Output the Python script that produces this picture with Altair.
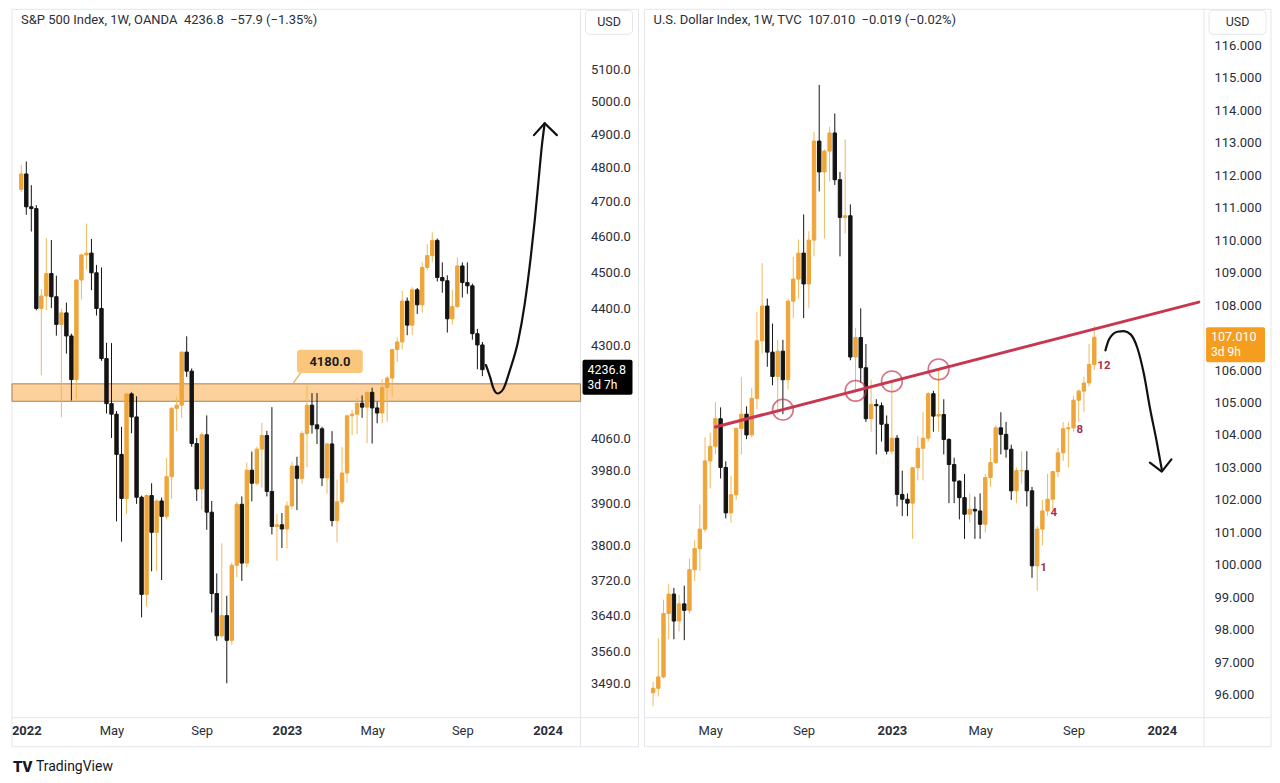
import altair as alt
import pandas as pd

FONT = "Roboto"
UP = "#eea53a"
UP_WICK = "#f1b85a"
DOWN = "#141414"
LINE = "#e3e5ea"
TXT = "#2a2e39"
RED = "#c8364f"
TD = "#a8304f"

# ---------------- S&P 500 Index, 1W, OANDA (weekly, from 2021-12-27) ----------------
spx_start = "2021-12-27"
spx_open0 = 4736
spx_close = [4781, 4685, 4680, 4400, 4434, 4496, 4432, 4357, 4388, 4326,
             4211, 4478, 4548, 4553, 4498, 4400, 4266, 4149, 4122, 4021,
             3913, 4174, 4115, 3916, 3688, 3920, 3832, 3907, 3870, 3966,
             4137, 4145, 4283, 4233, 4048, 3936, 4070, 3880, 3690, 3595,
             3640, 3585, 3755, 3899, 3760, 3982, 3950, 4034, 4068, 3930,
             3846, 3850, 3840, 3895, 3992, 3962, 4073, 4145, 4095, 4085,
             3963, 4047, 3860, 3905, 3975, 4118, 4122, 4150, 4140, 4178,
             4138, 4125, 4190, 4215, 4290, 4310, 4420, 4355, 4451, 4410,
             4513, 4546, 4589, 4485, 4476, 4372, 4405, 4517, 4471, 4462,
             4332, 4302, 4236.8]
spx_high = [4808, 4818, 4748, 4690, 4453, 4595, 4590, 4490, 4400, 4416,
            4332, 4480, 4550, 4637, 4593, 4520, 4513, 4308, 4307, 4130,
            4090, 4175, 4178, 4168, 3920, 3923, 3950, 3911, 3915, 4012,
            4140, 4167, 4285, 4325, 4240, 4062, 4076, 4119, 3907, 3736,
            3806, 3685, 3762, 3905, 3918, 4001, 4028, 4040, 4100, 4080,
            4140, 3876, 3878, 3906, 4003, 4015, 4079, 4195, 4176, 4176,
            4090, 4049, 4079, 3959, 4039, 4120, 4133, 4164, 4170, 4180,
            4190, 4154, 4212, 4220, 4292, 4322, 4448, 4430, 4458, 4456,
            4527, 4578, 4612, 4594, 4527, 4491, 4450, 4541, 4527, 4527,
            4468, 4345, 4310]
spx_low = [4728, 4662, 4614, 4395, 4222, 4395, 4401, 4327, 4114, 4279,
           4157, 4161, 4424, 4507, 4450, 4381, 4260, 4124, 4062, 3858,
           3810, 3875, 4074, 3900, 3636, 3660, 3741, 3742, 3721, 3863,
           3912, 4079, 4112, 4218, 4040, 3907, 3886, 3838, 3647, 3584,
           3591, 3491, 3575, 3727, 3719, 3750, 3906, 3944, 3939, 3918,
           3827, 3765, 3795, 3794, 3887, 3885, 3949, 3989, 4073, 4047,
           3943, 3925, 3846, 3809, 3899, 3951, 4069, 4072, 4113, 4049,
           4048, 4099, 4099, 4103, 4166, 4257, 4290, 4328, 4328, 4385,
           4389, 4505, 4528, 4474, 4443, 4335, 4356, 4403, 4430, 4440,
           4316, 4238, 4220]

# ---------------- U.S. Dollar Index, 1W, TVC (weekly, from 2022-02-14) ----------------
dxy_start = "2022-02-14"
dxy_open0 = 96.06
dxy_close = [96.2, 96.55, 98.5, 99.1, 98.27, 98.8, 98.6, 99.85, 100.5, 101.1,
             103.2, 103.65, 104.5, 103.0, 101.6, 102.16, 104.2, 104.64, 104.0, 105.13,
             106.9, 107.97, 106.55, 105.8, 106.58, 105.7, 108.12, 108.8, 109.6, 108.65,
             110.0, 113.05, 112.1, 112.74, 113.3, 111.86, 110.7, 110.75, 106.4, 107.0,
             106.07, 104.5, 104.94, 104.9, 104.33, 103.5, 103.9, 102.17, 102.02, 101.9,
             102.99, 103.59, 103.9, 105.27, 104.58, 104.63, 103.86, 103.09, 102.58, 102.07,
             101.56, 101.71, 101.66, 101.25, 102.69, 103.15, 104.22, 104.02, 103.56, 102.28,
             102.9, 102.9, 102.28, 99.97, 101.1, 101.66, 102.02, 102.87, 103.45, 104.19,
             104.22, 105.07, 105.35, 105.6, 106.17, 107.01]
dxy_high = [96.4, 97.74, 98.93, 99.42, 99.29, 99.08, 99.36, 100.19, 100.76, 101.86,
            103.93, 104.07, 105.01, 104.85, 103.19, 102.74, 104.24, 105.79, 104.88, 105.45,
            107.79, 109.29, 108.2, 107.43, 106.93, 106.93, 108.2, 109.48, 110.02, 110.79,
            110.27, 113.33, 114.78, 112.8, 113.49, 113.9, 112.1, 113.1, 111.1, 107.3,
            107.9, 106.8, 105.7, 105.1, 105.0, 104.6, 105.63, 104.0, 102.9, 102.2,
            103.0, 103.96, 104.7, 105.32, 105.36, 106.0, 105.1, 103.9, 103.3, 102.6,
            102.8, 102.2, 102.1, 102.2, 102.8, 103.6, 104.3, 104.7, 104.4, 103.7,
            103.0, 103.5, 103.5, 102.4, 101.2, 102.0, 102.8, 102.9, 103.6, 104.4,
            104.4, 105.2, 105.4, 105.8, 106.8, 107.35]
dxy_low = [95.65, 95.95, 96.5, 97.71, 97.71, 97.95, 97.68, 98.5, 99.5, 99.82,
           101.0, 102.35, 103.4, 102.66, 101.43, 101.3, 101.99, 103.4, 103.87, 103.92,
           104.8, 106.5, 106.1, 105.53, 104.64, 104.64, 105.4, 107.6, 108.2, 107.6,
           107.9, 109.5, 111.5, 110.05, 111.8, 111.7, 109.5, 110.2, 106.3, 105.3,
           105.6, 104.4, 104.1, 103.4, 103.8, 103.4, 103.4, 101.8, 101.5, 101.5,
           100.8, 102.6, 102.6, 103.8, 104.1, 104.1, 103.4, 101.9, 101.9, 101.4,
           100.8, 101.3, 100.8, 100.8, 101.0, 102.4, 103.1, 103.4, 103.3, 102.0,
           101.9, 102.5, 101.8, 99.6, 99.2, 100.6, 101.5, 101.7, 102.7, 103.2,
           103.0, 104.1, 104.4, 104.7, 105.5, 106.0]

# ---------------- annotations (in date / price units) ----------------
spx_zone = [4155, 4200]
spx_zone_label = "4180.0"
spx_zone_label_at = ["2023-03-03", 4258]
spx_zone_box_dates = ["2023-01-16", "2023-04-18"]
spx_zone_box_prices = [4228, 4289]
spx_zone_ptr_dates = ["2023-01-10", "2023-01-21"]
spx_zone_ptr_prices = [4200, 4228]
spx_path_dates = ["2023-10-07", "2023-10-13", "2023-10-17", "2023-10-23", "2023-10-31",
                  "2023-11-09", "2023-11-21", "2023-11-30", "2023-12-09", "2023-12-14",
                  "2023-12-20", "2023-12-24", "2023-12-28"]
spx_path_prices = [4249, 4216, 4190, 4175, 4186, 4233, 4313, 4411, 4550, 4644, 4775, 4864, 4933]
spx_head_dates = ["2023-12-13", "2023-12-28", "2024-01-14"]
spx_head_prices = [4897, 4933, 4897]

dxy_trend_dates = ["2022-05-09", "2024-02-20"]
dxy_trend_prices = [104.246, 108.092]
dxy_touch_dates = ["2022-08-08", "2022-11-14", "2023-01-02", "2023-03-06"]
dxy_touch_prices = [104.78, 105.36, 105.65, 106.02]
dxy_path_dates = ["2023-10-17", "2023-10-22", "2023-11-02", "2023-11-11", "2023-11-20",
                  "2023-11-29", "2023-12-08", "2023-12-16", "2023-12-25", "2024-01-01"]
dxy_path_prices = [106.606, 106.945, 107.178, 107.2, 107.098, 106.686, 105.868, 104.84, 103.815, 102.945]
dxy_head_dates = ["2023-12-16", "2024-01-01", "2024-01-14"]
dxy_head_prices = [103.148, 102.87, 103.25]
dxy_td_dates = ["2023-07-17", "2023-07-31", "2023-09-04", "2023-10-02"]
dxy_td_labels = ["1", "4", "8", "12"]
dxy_td_prices = [99.97, 101.66, 104.22, 106.17]

spx_title = "S&P 500 Index, 1W, OANDA \u00a04236.8 \u00a0\u221257.9 (\u22121.35%)"
dxy_title = "U.S. Dollar Index, 1W, TVC \u00a0107.010 \u00a0\u22120.019 (\u22120.02%)"
spx_last = [4236.8, "4236.8", "3d 7h"]
dxy_last = [107.01, "107.010", "3d 9h"]

# axis ticks that are visible (the ones under the last-price boxes are hidden in the reference)
spx_yticks = [5100, 5000, 4900, 4800, 4700, 4600, 4500, 4400, 4300,
              4060, 3980, 3900, 3800, 3720, 3640, 3560, 3490]
dxy_yticks = [96, 97, 98, 99, 100, 101, 102, 103, 104, 105, 106,
              108, 109, 110, 111, 112, 113, 114, 115, 116]
spx_xticks = ["2022-01-03", "2022-05-02", "2022-09-05", "2023-01-02", "2023-05-01", "2023-09-04", "2024-01-01"]
dxy_xticks = ["2022-05-02", "2022-09-05", "2023-01-02", "2023-05-01", "2023-09-04", "2024-01-01"]


def ms(s):
    t = pd.Timestamp(s)
    if t.tzinfo is None:
        t = t.tz_localize("UTC")
    return int(t.value // 10**6)


def ohlc(start, open0, close, high, low):
    dates = pd.date_range(start, periods=len(close), freq="7D").strftime("%Y-%m-%d")
    opens = [open0] + list(close[:-1])
    return pd.DataFrame({"date": dates, "open": opens, "close": close, "high": high, "low": low})


def pts(dates, prices):
    return pd.DataFrame({"date": dates, "price": prices})


anchor = pd.Timestamp("2023-01-02")
LW, RW, H = 569, 560, 709
spx_xdom = [ms(anchor - pd.Timedelta(days=377.0)), ms(anchor + pd.Timedelta(days=403.1))]
dxy_xdom = [ms(anchor - pd.Timedelta(days=326.9)), ms(anchor + pd.Timedelta(days=414.3))]

YEAR_TEST = "utcmonth(datum.value) == 0"


def x_axis(ticks, flush):
    kw = dict(values=[ms(t) for t in ticks],
              labelExpr=YEAR_TEST + " ? utcFormat(datum.value, '%Y') : utcFormat(datum.value, '%b')",
              labelFontWeight={"condition": {"test": YEAR_TEST, "value": "bold"}, "value": "normal"},
              labelFont=FONT, labelFontSize=13, labelColor=TXT, labelPadding=7,
              ticks=False, tickSize=0, domain=False, grid=False, title=None, labelOverlap=False)
    if flush:
        kw.update(labelFlush=12, labelFlushOffset=9.5)
    else:
        kw.update(labelFlush=False)
    return alt.Axis(**kw)


def y_axis(ticks, fmt, extent):
    return alt.Axis(orient="right", values=ticks, format=fmt, labelFont=FONT, labelFontSize=13,
                    labelColor=TXT, labelPadding=10, ticks=False, tickSize=0, domain=False,
                    grid=False, title=None, labelOverlap=False, minExtent=extent, maxExtent=extent)


one = pd.DataFrame({"k": [0]})


class Panel:
    def __init__(self, xs, ys, xax, yax):
        self.xs, self.ys, self.xax, self.yax = xs, ys, xax, yax

    def X(self, f):
        return alt.X(f, scale=self.xs, axis=self.xax)

    def Y(self, f):
        return alt.Y(f, scale=self.ys, axis=self.yax)

    def candles(self, df):
        base = alt.Chart(df)
        body_col = alt.condition("datum.close >= datum.open", alt.value(UP), alt.value(DOWN))
        wick_col = alt.condition("datum.close >= datum.open", alt.value(UP_WICK), alt.value(DOWN))
        wick = base.mark_rule(strokeWidth=1).encode(
            x=self.X("date:T"), y=self.Y("low:Q"), y2=alt.Y2("high"), color=wick_col)
        body = base.mark_bar(size=3.4, strokeWidth=1).encode(
            x=self.X("date:T"), y=self.Y("open:Q"), y2=alt.Y2("close"),
            color=body_col, stroke=body_col)
        return [wick, body]

    def line(self, df, color, width, interp="linear"):
        return alt.Chart(df).mark_line(color=color, strokeWidth=width, strokeCap="round",
                                       strokeJoin="round", interpolate=interp).encode(
            x=self.X("date:T"), y=self.Y("price:Q"))

    def last_price(self, last, w, x2, fill, txt):
        df = pd.DataFrame({"p": [last[0]], "a": [last[1]], "b": [last[2]]})
        base = alt.Chart(df)
        box = base.mark_rect(fill=fill, cornerRadius=2, yOffset=-10, y2Offset=25).encode(
            x=alt.value(w + 2), x2=alt.value(x2), y=self.Y("p:Q"), y2=alt.Y2("p"))
        t1 = base.mark_text(align="left", baseline="middle", font=FONT, fontSize=12.5, color=txt).encode(
            x=alt.value(w + 7), y=self.Y("p:Q"), text="a:N")
        t2 = base.mark_text(align="left", baseline="middle", font=FONT, fontSize=12, color=txt, dy=15).encode(
            x=alt.value(w + 7), y=self.Y("p:Q"), text="b:N")
        return [box, t1, t2]


def frame(w, full_w):
    border = alt.Chart(one).mark_rect(fillOpacity=0, stroke=LINE, strokeWidth=1).encode(
        x=alt.value(0), x2=alt.value(full_w), y=alt.value(0), y2=alt.value(738))
    vsep = alt.Chart(one).mark_rule(color=LINE, strokeWidth=1).encode(
        x=alt.value(w), y=alt.value(0), y2=alt.value(738))
    hsep = alt.Chart(one).mark_rule(color=LINE, strokeWidth=1).encode(
        x=alt.value(0), x2=alt.value(full_w), y=alt.value(H))
    return [border, vsep, hsep]


def header_layers(title, usd_x1, usd_x2):
    head = alt.Chart(one).mark_text(align="left", baseline="middle", font=FONT, fontSize=13,
                                    color=TXT).encode(x=alt.value(9), y=alt.value(11),
                                                      text=alt.value(title))
    box = alt.Chart(one).mark_rect(fill="#ffffff", stroke=LINE, strokeWidth=1, cornerRadius=4).encode(
        x=alt.value(usd_x1), x2=alt.value(usd_x2), y=alt.value(1), y2=alt.value(25))
    usd = alt.Chart(one).mark_text(align="center", baseline="middle", font=FONT, fontSize=12.5,
                                   color=TXT).encode(x=alt.value((usd_x1 + usd_x2) / 2),
                                                     y=alt.value(13), text=alt.value("USD"))
    return [head, box, usd]


# ======================= left panel: S&P 500 =======================
spx = ohlc(spx_start, spx_open0, spx_close, spx_high, spx_low)
L = Panel(alt.Scale(type="utc", domain=spx_xdom, nice=False),
          alt.Scale(type="log", domain=[3417.6, 5292.6], nice=False, zero=False),
          x_axis(spx_xticks, True), y_axis(spx_yticks, ".1f", 58))

zone = alt.Chart(pd.DataFrame({"lo": [spx_zone[0]], "hi": [spx_zone[1]]})).mark_rect(
    fill="#fbc98a", fillOpacity=0.85, stroke="#a9805a", strokeWidth=1).encode(
    x=alt.value(0), x2=alt.value(LW), y=L.Y("lo:Q"), y2=alt.Y2("hi"))

zbox_df = pd.DataFrame({"d1": [spx_zone_box_dates[0]], "d2": [spx_zone_box_dates[1]],
                        "p1": [spx_zone_box_prices[0]], "p2": [spx_zone_box_prices[1]]})
zbox = alt.Chart(zbox_df).mark_rect(fill="#f9c67c", cornerRadius=3).encode(
    x=L.X("d1:T"), x2=alt.X2("d2"), y=L.Y("p1:Q"), y2=alt.Y2("p2"))
zptr = L.line(pts(spx_zone_ptr_dates, spx_zone_ptr_prices), "#e9a85a", 1.2)
ztxt = alt.Chart(pd.DataFrame({"date": [spx_zone_label_at[0]], "price": [spx_zone_label_at[1]],
                               "t": [spx_zone_label]})).mark_text(
    font=FONT, fontSize=13, fontWeight="bold", color="#1c1c1c", baseline="middle").encode(
    x=L.X("date:T"), y=L.Y("price:Q"), text="t:N")

spx_curve = L.line(pts(spx_path_dates, spx_path_prices), "#111111", 2.2, "monotone")
spx_head = L.line(pts(spx_head_dates, spx_head_prices), "#111111", 2.2)

logo = alt.Chart(one).mark_text(align="left", baseline="middle", font=FONT, fontSize=15,
                                fontWeight=900, color="#131722").encode(
    x=alt.value(1), y=alt.value(758), text=alt.value("TV"))
brand = alt.Chart(one).mark_text(align="left", baseline="middle", font=FONT, fontSize=14,
                                 color="#131722").encode(
    x=alt.value(24), y=alt.value(758), text=alt.value("TradingView"))

left_layers = (frame(LW, 627) + [zone] + L.candles(spx)
               + [zbox, zptr, ztxt, spx_curve, spx_head]
               + header_layers(spx_title, 574, 621)
               + L.last_price(spx_last, LW, 621, "#000000", "#ffffff")
               + [logo, brand])
left = alt.layer(*left_layers).properties(width=LW, height=H)

# ======================= right panel: DXY =======================
dxy = ohlc(dxy_start, dxy_open0, dxy_close, dxy_high, dxy_low)
R = Panel(alt.Scale(type="utc", domain=dxy_xdom, nice=False),
          alt.Scale(domain=[95.2923, 117.1077], nice=False, zero=False),
          x_axis(dxy_xticks, False), y_axis(dxy_yticks, ".3f", 60))

trend = R.line(pts(dxy_trend_dates, dxy_trend_prices), RED, 3)
touches = alt.Chart(pts(dxy_touch_dates, dxy_touch_prices)).mark_point(
    shape="circle", size=430, filled=False, color=RED, strokeWidth=1.6).encode(
    x=R.X("date:T"), y=R.Y("price:Q"))
dxy_curve = R.line(pts(dxy_path_dates, dxy_path_prices), "#111111", 2.2, "monotone")
dxy_head = R.line(pts(dxy_head_dates, dxy_head_prices), "#111111", 2.2)
td = alt.Chart(pd.DataFrame({"date": dxy_td_dates, "price": dxy_td_prices, "t": dxy_td_labels})).mark_text(
    align="left", baseline="middle", font=FONT, fontSize=11.5, fontWeight="bold", color=TD, dx=3, dy=2).encode(
    x=R.X("date:T"), y=R.Y("price:Q"), text="t:N")

right_layers = (frame(RW, 627) + R.candles(dxy)
                + [trend, touches, dxy_curve, dxy_head, td]
                + header_layers(dxy_title, 565, 622)
                + R.last_price(dxy_last, RW, 621, "#f59d1e", "#ffffff"))
right = alt.layer(*right_layers).properties(width=RW, height=H)

chart = (alt.hconcat(left, right, spacing=4)
         .properties(padding={"left": 3, "top": 0, "right": 0, "bottom": 0}, background="#ffffff")
         .configure_view(strokeWidth=0)
         .configure_text(font=FONT))

chart.save("out.html", embed_options={"renderer": "svg", "actions": False})
